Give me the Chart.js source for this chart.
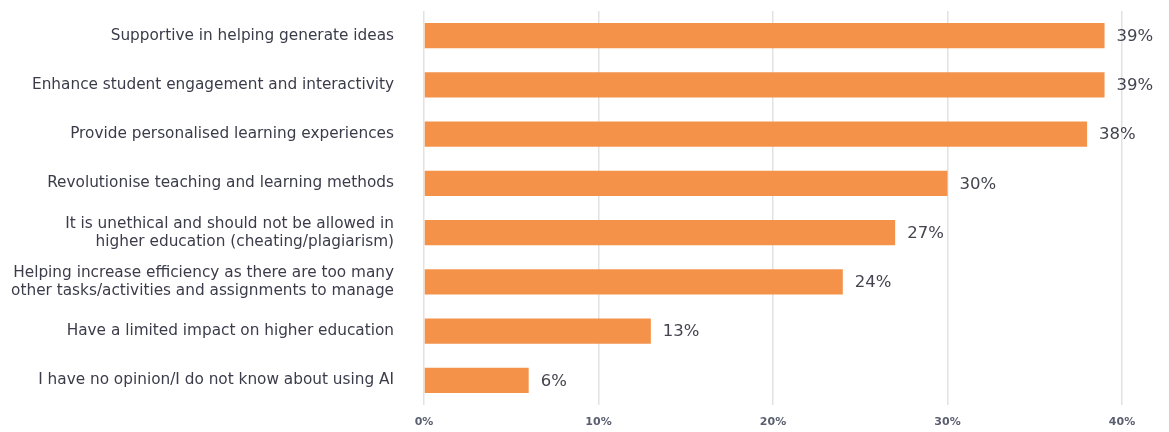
<!DOCTYPE html>
<html>
<head>
<meta charset="utf-8">
<script src="https://cdn.jsdelivr.net/npm/chart.js@4/dist/chart.umd.min.js"></script>
<style>
  html, body { margin: 0; padding: 0; background: #fff; }
  #wrap { width: 1169px; height: 432px; }
</style>
</head>
<body>
<div id="wrap"><canvas id="aiChart"></canvas></div>
<script>
// Chart data
var categories = [
    'Supportive in helping generate ideas',
    'Enhance student engagement and interactivity',
    'Provide personalised learning experiences',
    'Revolutionise teaching and learning methods',
    ['It is unethical and should not be allowed in', 'higher education (cheating/plagiarism)'],
    ['Helping increase efficiency as there are too many', 'other tasks/activities and assignments to manage'],
    'Have a limited impact on higher education',
    'I have no opinion/I do not know about using AI'
];
var percentages = [39, 39, 38, 30, 27, 24, 13, 6];
var tickValues = [0, 10, 20, 30, 40];

var barColor = '#F4924A';
var textColor = '#3b3b4a';
var fontFamily = '"DejaVu Sans", sans-serif';

// Draw value labels at the end of each bar
var valueLabels = {
    id: 'valueLabels',
    afterDatasetsDraw: function(chart) {
        var ctx = chart.ctx;
        var meta = chart.getDatasetMeta(0);
        ctx.save();
        ctx.font = '16.5px ' + fontFamily;
        ctx.fillStyle = '#444450';
        ctx.textAlign = 'left';
        ctx.textBaseline = 'middle';
        meta.data.forEach(function(bar, i) {
            ctx.fillText(percentages[i] + '%', bar.x + 12, bar.y + 1);
        });
        ctx.restore();
    }
};

new Chart(document.getElementById('aiChart'), {
    type: 'bar',
    data: {
        labels: categories,
        datasets: [{
            data: percentages,
            backgroundColor: barColor,
            borderWidth: 0,
            categoryPercentage: 1.0,
            barPercentage: 0.51
        }]
    },
    options: {
        indexAxis: 'y',
        responsive: true,
        maintainAspectRatio: false,
        animation: false,
        layout: { padding: { top: 11, right: 47, bottom: 0, left: 0 } },
        plugins: {
            legend: { display: false },
            tooltip: { enabled: false }
        },
        scales: {
            x: {
                min: 0,
                max: 40,
                afterBuildTicks: function(axis) {
                    axis.ticks = tickValues.map(function(v) { return { value: v }; });
                },
                afterFit: function(axis) { axis.height = 27; },
                grid: { color: '#e2e2e2', lineWidth: 1.5, drawTicks: false },
                border: { display: false },
                ticks: {
                    padding: 11,
                    color: '#5a5f70',
                    font: { family: fontFamily, size: 11, weight: 'bold' },
                    callback: function(v) { return v + '%'; }
                }
            },
            y: {
                grid: { display: false, drawTicks: false },
                border: { display: false },
                afterFit: function(axis) {
                    axis.width = 424;
                    axis.paddingTop = 0;
                    axis.paddingBottom = 0;
                },
                ticks: {
                    padding: 30,
                    color: textColor,
                    font: { family: fontFamily, size: 15.3, lineHeight: 1.18 }
                }
            }
        }
    },
    plugins: [valueLabels]
});
</script>
</body>
</html>
